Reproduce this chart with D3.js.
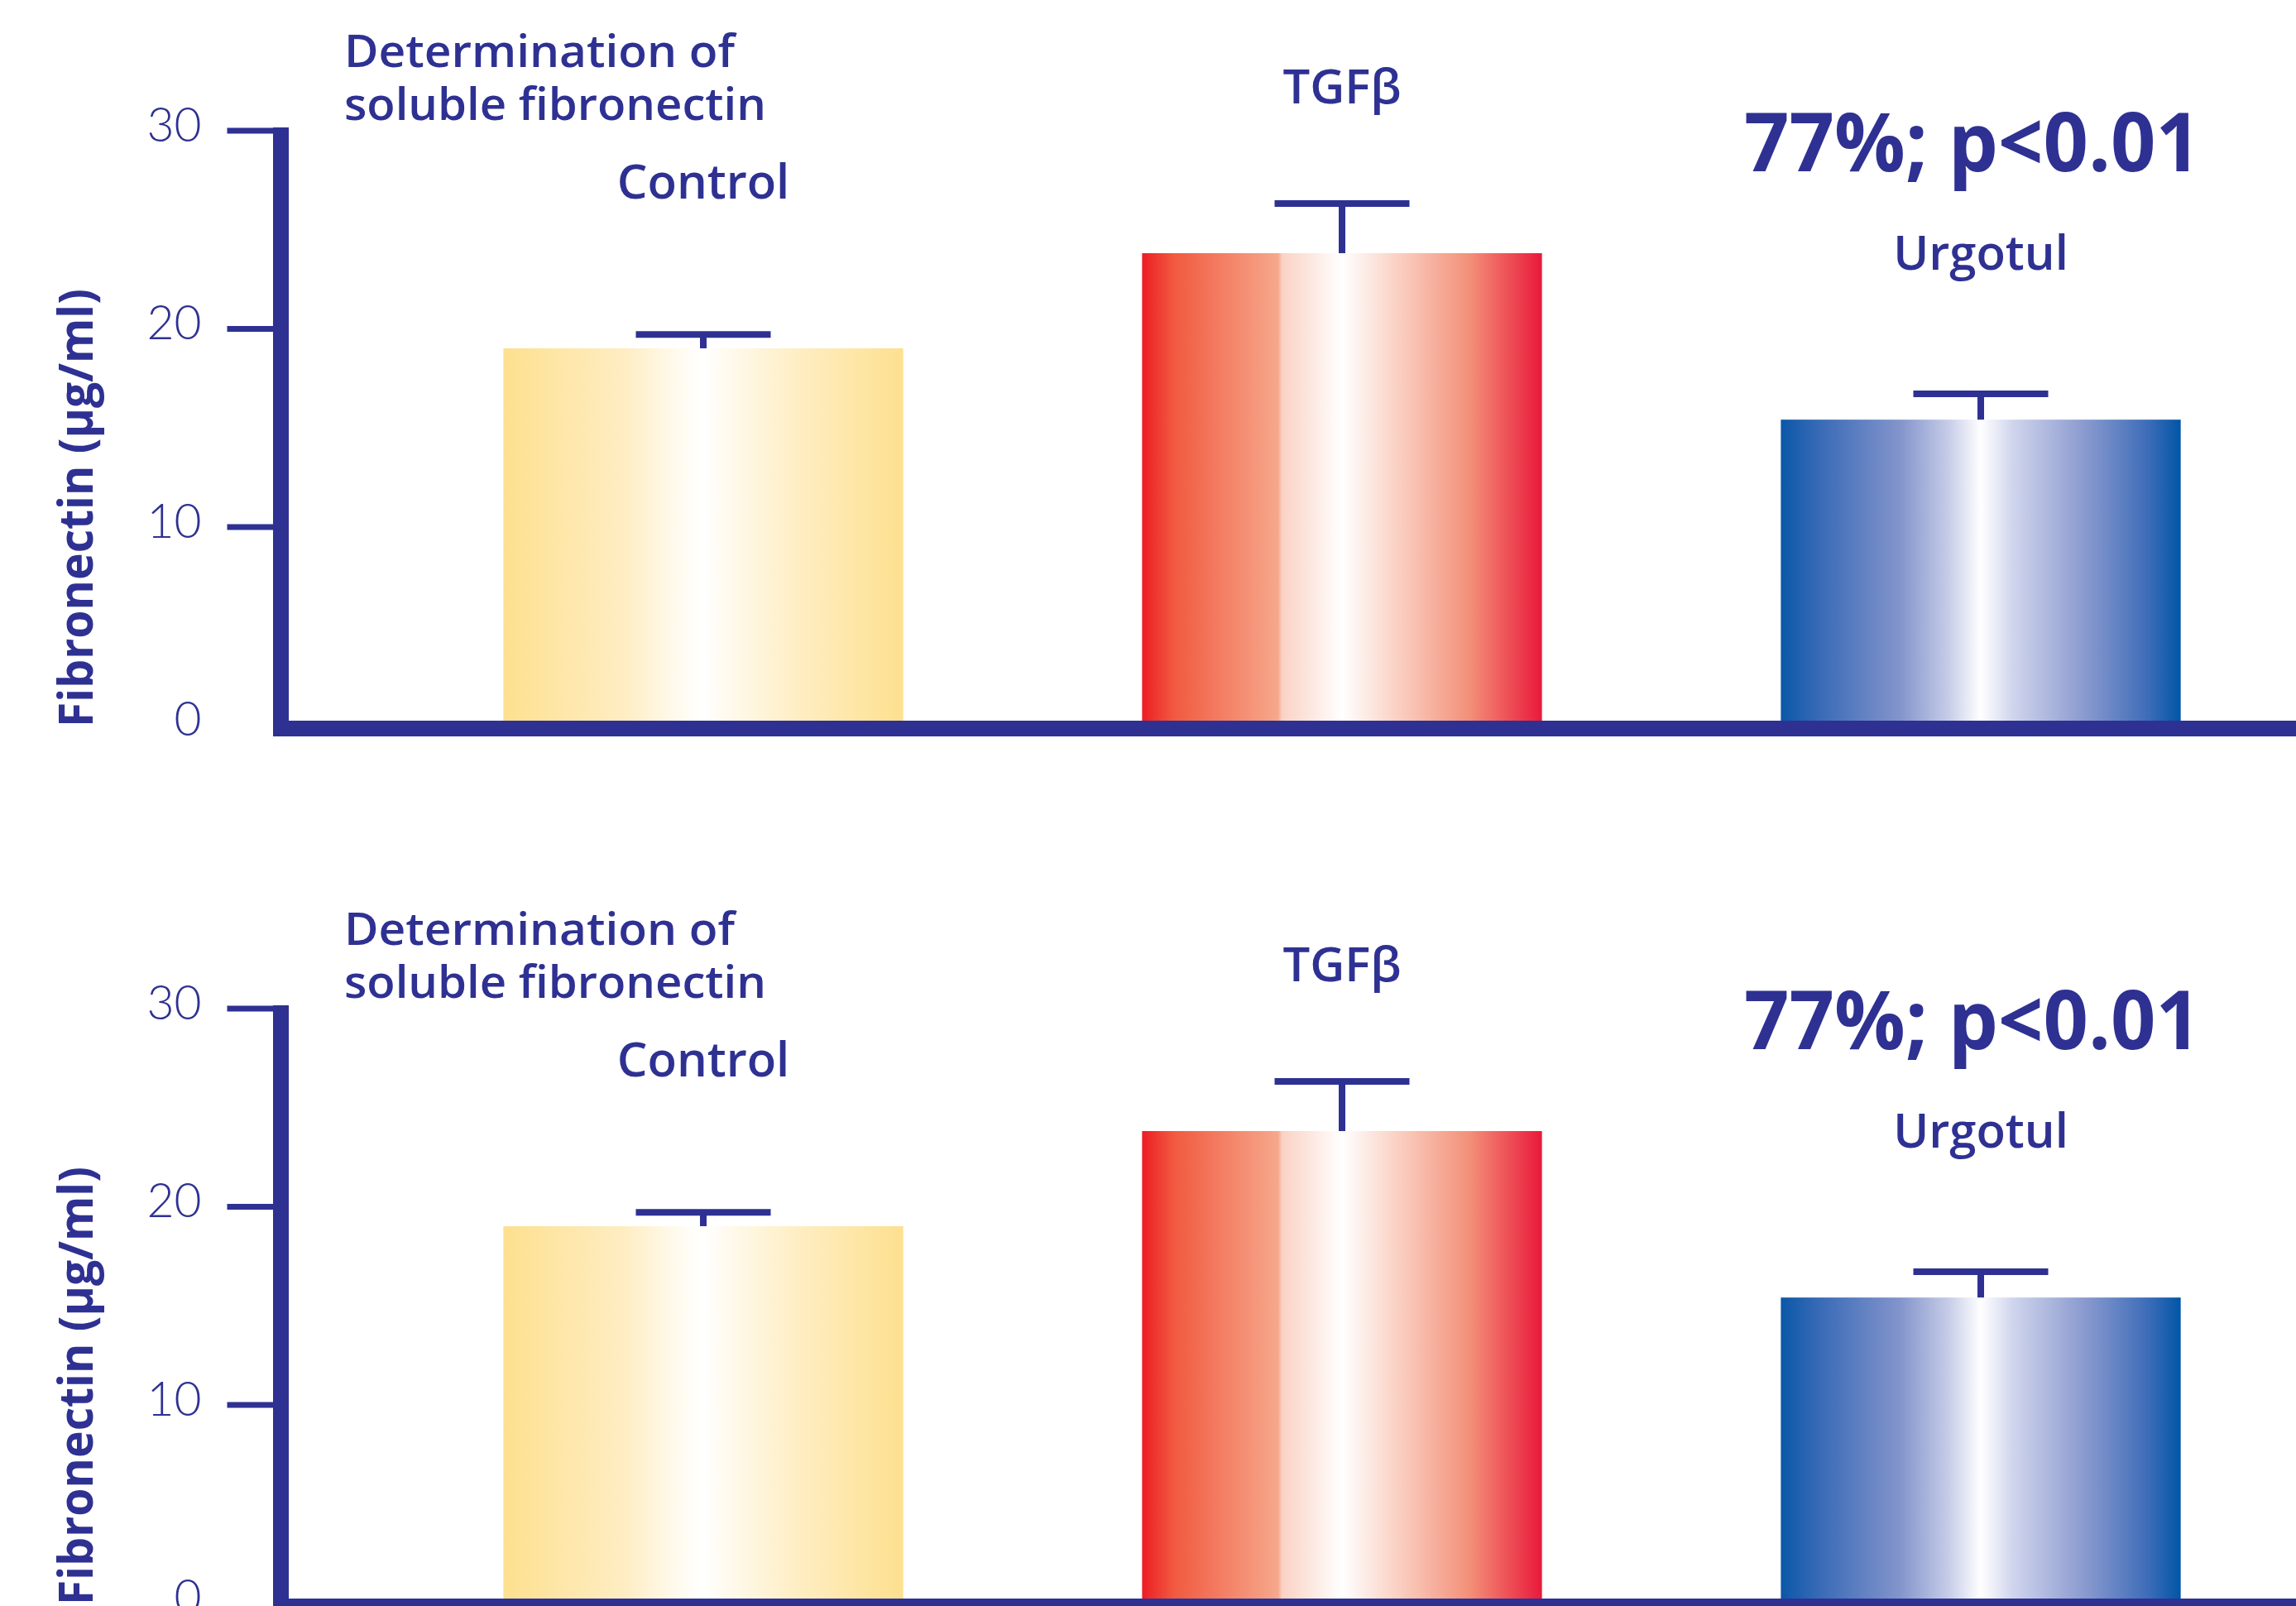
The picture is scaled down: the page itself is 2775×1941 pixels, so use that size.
<html>
<head>
<script src="https://cdn.jsdelivr.net/npm/d3@7"></script>
<style>
  body { margin: 0; background: #fff; }
  text { font-family: "Open Sans", "Lato", sans-serif; fill: #2e3192; }
</style>
</head>
<body>
<svg width="2775" height="1941"></svg>
<script>
// data
var categories = ["Control", "TGFβ", "Urgotul"];
var means = [19.0, 23.8, 15.4];
var errors = [0.7, 2.5, 1.3];
var yTicks = [0, 10, 20, 30];
var titleLines = ["Determination of", "soluble fibronectin"];
var annotation = "77%; p<0.01";
var yLabel = "Fibronectin (µg/ml)";

var navy = "#2e3192";
var svg = d3.select("svg");

// bar gradients (edge -> white centre -> edge)
var gradStops = [
  [[0, "#fde08f"], [0.3, "#feedc2"], [0.44, "#fffbf0"], [0.5, "#ffffff"], [0.56, "#fffaee"], [0.75, "#feedc0"], [1, "#fde08f"]],
  [[0, "#ed1c24"], [0.08, "#f15a40"], [0.34, "#f6a88c"], [0.35, "#fad2c4"], [0.5, "#ffffff"], [0.64, "#fad0c2"], [0.82, "#f38f78"], [1, "#e9193a"]],
  [[0, "#0b57a8"], [0.1, "#3a6bb7"], [0.3, "#8495cc"], [0.42, "#c7cde8"], [0.5, "#ffffff"], [0.58, "#d0d5ed"], [0.76, "#8a9acf"], [0.92, "#3c6cb8"], [1, "#0056a6"]]
];
var defs = svg.append("defs");
gradStops.forEach(function (stops, i) {
  var lg = defs.append("linearGradient").attr("id", "grad" + i)
    .attr("x1", 0).attr("x2", 1).attr("y1", 0).attr("y2", 0);
  stops.forEach(function (s) {
    lg.append("stop").attr("offset", s[0]).attr("stop-color", s[1]);
  });
});

var xScale = d3.scaleBand()
  .domain(categories)
  .range([464, 2780])
  .paddingInner(0.374)
  .paddingOuter(0.187);

var yScale = d3.scaleLinear()
  .domain([0, 30])
  .range([876, 157.5]);

var axisX = 339.5;
var titleWidths = [472, 510]; // stretch title lines to the original's width

function drawPanel(offset) {
  var g = svg.append("g").attr("transform", "translate(0," + offset + ")");

  // bars
  g.selectAll(".bar")
    .data(means)
    .enter()
    .append("rect")
    .attr("x", function (d, i) { return xScale(categories[i]); })
    .attr("y", function (d) { return yScale(d); })
    .attr("width", xScale.bandwidth())
    .attr("height", function (d) { return yScale(0) - yScale(d); })
    .attr("fill", function (d, i) { return "url(#grad" + i + ")"; });

  // error bars
  var eb = g.selectAll(".err")
    .data(means)
    .enter()
    .append("g");
  eb.append("line")
    .attr("x1", function (d, i) { return xScale(categories[i]) + xScale.bandwidth() / 2; })
    .attr("x2", function (d, i) { return xScale(categories[i]) + xScale.bandwidth() / 2; })
    .attr("y1", function (d) { return yScale(d); })
    .attr("y2", function (d, i) { return yScale(d + errors[i]); })
    .attr("stroke", navy).attr("stroke-width", 8);
  eb.append("line")
    .attr("x1", function (d, i) { return xScale(categories[i]) + xScale.bandwidth() / 2 - 81.5; })
    .attr("x2", function (d, i) { return xScale(categories[i]) + xScale.bandwidth() / 2 + 81.5; })
    .attr("y1", function (d, i) { return yScale(d + errors[i]); })
    .attr("y2", function (d, i) { return yScale(d + errors[i]); })
    .attr("stroke", navy).attr("stroke-width", 8);

  // category labels above bars
  g.selectAll(".cat")
    .data(categories)
    .enter()
    .append("text")
    .attr("x", function (d) { return xScale(d) + xScale.bandwidth() / 2; })
    .attr("y", function (d, i) { return yScale(means[i]) - 181; })
    .attr("text-anchor", "middle")
    .style("font-size", "58px")
    .style("font-weight", 600)
    .text(function (d) { return d; });

  // y axis ticks + labels
  var yAxis = d3.axisLeft(yScale)
    .tickValues(yTicks)
    .tickSize(65)
    .tickPadding(31);
  var ga = g.append("g").attr("transform", "translate(" + axisX + ",0)").call(yAxis);
  ga.select(".domain").remove();
  ga.selectAll(".tick line")
    .attr("stroke", navy)
    .attr("stroke-width", 7)
    .attr("opacity", function (d) { return d === 0 ? 0 : 1; });
  ga.selectAll(".tick text")
    .attr("fill", navy)
    .attr("dy", "0.22em")
    .style("font-family", "Lato, 'Open Sans', sans-serif")
    .style("font-weight", 300)
    .style("font-size", "57px");

  // axis lines
  g.append("line")
    .attr("x1", axisX).attr("x2", axisX)
    .attr("y1", yScale(30) - 3.5).attr("y2", yScale(0) + 14)
    .attr("stroke", navy).attr("stroke-width", 19);
  g.append("line")
    .attr("x1", axisX - 9.5).attr("x2", 2775)
    .attr("y1", yScale(0) + 4.5).attr("y2", yScale(0) + 4.5)
    .attr("stroke", navy).attr("stroke-width", 19);

  // y axis title
  g.append("text")
    .attr("transform", "translate(112," + 614 + ") rotate(-90)")
    .attr("text-anchor", "middle")
    .attr("textLength", 530)
    .attr("lengthAdjust", "spacingAndGlyphs")
    .style("font-size", "58px")
    .style("font-weight", 700)
    .text(yLabel);

  // chart title
  g.selectAll(".title")
    .data(titleLines)
    .enter()
    .append("text")
    .attr("x", 416)
    .attr("y", function (d, i) { return 81 + i * 64; })
    .attr("textLength", function (d, i) { return titleWidths[i]; })
    .attr("lengthAdjust", "spacingAndGlyphs")
    .style("font-size", "54px")
    .style("font-weight", 600)
    .text(function (d) { return d; });

  // annotation
  g.append("text")
    .attr("x", 2108)
    .attr("y", 207)
    .attr("textLength", 552)
    .attr("lengthAdjust", "spacingAndGlyphs")
    .style("font-size", "98px")
    .style("font-weight", 700)
    .text(annotation);
}

drawPanel(0);
drawPanel(1061);
</script>
</body>
</html>
